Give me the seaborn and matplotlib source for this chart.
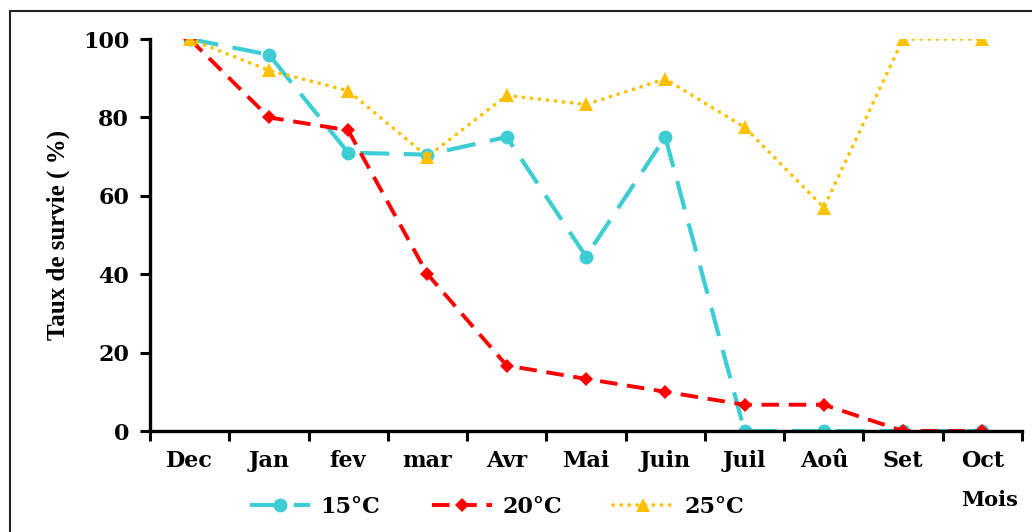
import numpy as np
import pandas as pd
import matplotlib
matplotlib.use("Agg")
import matplotlib.pyplot as plt
import seaborn as sns
from matplotlib.patches import Rectangle

mois = ["Dec", "Jan", "fev", "mar", "Avr", "Mai", "Juin", "Juil", "Aoû", "Set", "Oct"]
t15 = [100, 96, 71, 70.5, 75, 44.5, 75, 0, 0, 0, 0]
t20 = [100, 80, 76.7, 40, 16.7, 13.3, 10, 6.7, 6.7, 0, 0]
t25 = [100, 92, 86.8, 70, 85.6, 83.3, 89.8, 77.5, 57, 100, 100]
series = ["15°C", "20°C", "25°C"]

df = pd.DataFrame({"mois": mois, "15°C": t15, "20°C": t20, "25°C": t25})
df["pos"] = np.arange(len(mois))

sns.set_theme(style="white")
plt.rcParams["font.family"] = ["DejaVu Serif"]
plt.rcParams["font.weight"] = "bold"
for k in ["text.color", "axes.labelcolor", "xtick.color", "ytick.color"]:
    plt.rcParams[k] = "black"

fig = plt.figure(figsize=(10.32, 5.32), dpi=100)
ax = fig.add_axes([150 / 1032, 1 - 431 / 532, (1022 - 150) / 1032, (431 - 39) / 532])

# cadre autour de la figure
fig.patches.append(Rectangle((10 / 1032, -0.2), 1.2, 1.2 - 11 / 532,
                             transform=fig.transFigure, fill=False,
                             edgecolor="#222222", linewidth=1.5))

styles = {
    "15°C": dict(color="#3CCDD5", lw=3.0, marker="o", ms=10, dash=(7, 3.5), cap="butt"),
    "20°C": dict(color="#FF0000", lw=2.8, marker="D", ms=7.5, dash=(4.5, 2.5), cap="butt"),
    "25°C": dict(color="#FFC000", lw=2.7, marker="^", ms=10, dash=(0.05, 2.1), cap="round"),
}

handles = []
for s in series:
    st = styles[s]
    sns.lineplot(data=df, x="pos", y=s, ax=ax, color=st["color"], linewidth=st["lw"],
                 marker=st["marker"], markersize=st["ms"], markeredgewidth=0,
                 markeredgecolor=st["color"], label=s)
    line = ax.get_lines()[-1]
    line.set_dashes(st["dash"])
    line.set_dash_capstyle(st["cap"])
    handles.append(line)

ax.set_xlim(-0.5, len(mois) - 0.5)
ax.set_ylim(0, 100)
ax.set_yticks([0, 20, 40, 60, 80, 100])
ax.set_xticks(df["pos"])
ax.set_xticklabels(mois)
ax.set_xticks(np.arange(-0.5, len(mois), 1), minor=True)
ax.tick_params(axis="x", which="major", bottom=True, length=0, pad=14, labelsize=16)
ax.tick_params(axis="x", which="minor", bottom=True, length=7, width=2.2,
               direction="out", color="black")
ax.tick_params(axis="y", left=True, length=7, width=2.2, direction="out",
               color="black", pad=8, labelsize=16)
for lab in ax.get_xticklabels() + ax.get_yticklabels():
    lab.set_fontweight("bold")

sns.despine(ax=ax)
for side in ["left", "bottom"]:
    ax.spines[side].set_linewidth(2.4)
    ax.spines[side].set_color("black")
ax.set_xlabel("")
ax.set_ylabel("Taux de survie ( %)", family="Liberation Serif", fontsize=18,
              fontweight="bold", labelpad=9)
ax.legend_.remove()

fig.legend(handles=handles, labels=series, loc="center", ncol=3, frameon=False,
           bbox_to_anchor=(497 / 1032, 1 - 507 / 532), handlelength=2.7,
           columnspacing=2.3, handletextpad=0.5, prop={"weight": "bold", "size": 16})
fig.text(990 / 1032, 1 - 500 / 532, "Mois", ha="center", va="center",
         fontsize=15, fontweight="bold")

fig.savefig("out.png", dpi=100)
